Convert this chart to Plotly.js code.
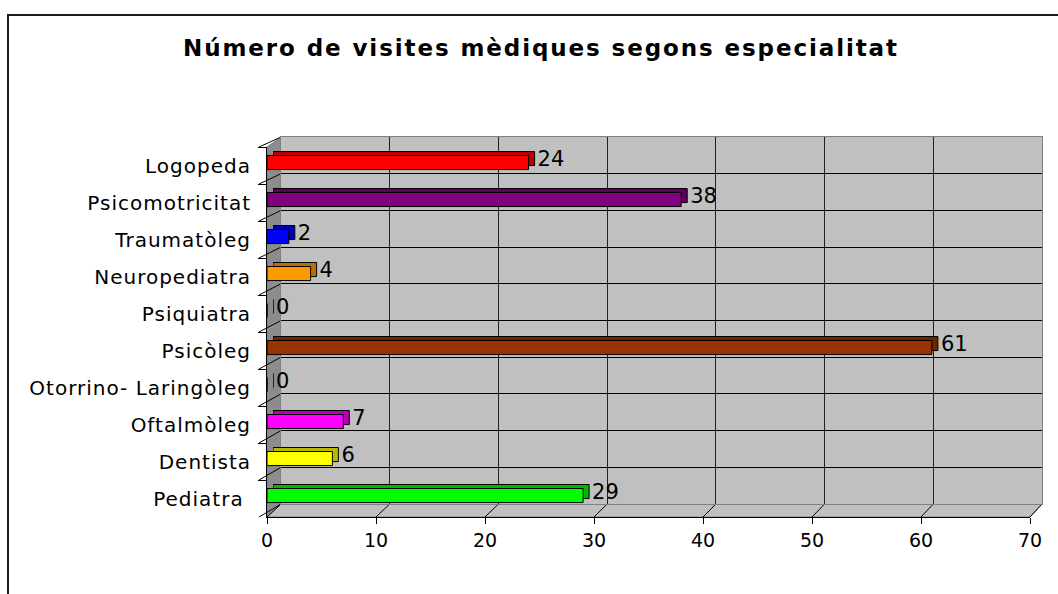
<!DOCTYPE html>
<html>
<head>
<meta charset="utf-8">
<script src="https://cdn.plot.ly/plotly-3.0.1.min.js"></script>
<style>
  html, body { margin: 0; padding: 0; background: #fff; }
  #myPlot { width: 1058px; height: 594px; }
  #myPlot .y3tick text { letter-spacing: 1px; }
  #myPlot .gtitle { letter-spacing: 1.9px; }
</style>
</head>
<body>
<div id="myPlot"></div>
<script>
const categories = [
  "Pediatra ",
  "Dentista",
  "Oftalmòleg",
  "Otorrino- Laringòleg",
  "Psicòleg",
  "Psiquiatra",
  "Neuropediatra",
  "Traumatòleg",
  "Psicomotricitat",
  "Logopeda"
];
const visits = [29, 6, 7, 0, 61, 0, 4, 2, 38, 24];
const barColors = [
  "#00FF00", "#FFFF00", "#FF00FF", "#008080", "#993300",
  "#808000", "#FF9900", "#0000FF", "#800080", "#FF0000"
];
const xTicks = [0, 10, 20, 30, 40, 50, 60, 70];
const chartTitle = "Número de visites mèdiques segons especialitat";

window.addEventListener("DOMContentLoaded", () => {
  const W = 1058, H = 594;
  const px = x => x / W;
  const py = y => 1 - y / H;

  // pixel boxes of the fake 3D frame
  const front = { x0: 267, x1: 1030, y0: 147, y1: 517 };
  const depth = { dx: 6, dy: -4 };
  const wall = { x0: 281, x1: 1042, y0: 137, y1: 504 };

  const font = "DejaVu Sans, Liberation Sans, Arial, sans-serif";
  const barWidth = 0.38;
  const barOffset = -0.11;

  function shade(hex, f) {
    const n = parseInt(hex.slice(1), 16);
    const r = Math.round(((n >> 16) & 255) * f);
    const g = Math.round(((n >> 8) & 255) * f);
    const b = Math.round((n & 255) * f);
    return `rgb(${r},${g},${b})`;
  }

  const sideBars = {
    type: "bar",
    orientation: "h",
    x: visits,
    y: categories,
    xaxis: "x2",
    yaxis: "y2",
    width: barWidth,
    offset: barOffset,
    marker: { color: barColors.map(c => shade(c, 0.72)), line: { color: "#000", width: 1 } },
    text: visits.map(String),
    textposition: "outside",
    constraintext: "none",
    textfont: { family: font, size: 21, color: "#000" },
    cliponaxis: false,
    hoverinfo: "skip"
  };

  const frontBars = {
    type: "bar",
    orientation: "h",
    x: visits,
    y: categories,
    xaxis: "x3",
    yaxis: "y3",
    width: barWidth,
    offset: barOffset,
    marker: { color: barColors, line: { color: "#000", width: 1 } },
    hovertemplate: "%{y}: %{x}<extra></extra>"
  };

  const fx = v => front.x0 + (front.x1 - front.x0) * v / 70;
  const wx = v => wall.x0 + (wall.x1 - wall.x0) * v / 70;
  const fy = k => front.y1 - (front.y1 - front.y0) * k / categories.length;
  const wy = k => wall.y1 - (wall.y1 - wall.y0) * k / categories.length;

  const shapes = [
    { type: "rect", xref: "x", yref: "y", x0: 0, x1: 70, y0: 0, y1: 10,
      fillcolor: "#c0c0c0", line: { width: 0 }, layer: "below" },
    { type: "path", xref: "paper", yref: "paper", layer: "below",
      path: `M${px(front.x0)},${py(front.y0)} L${px(wall.x0)},${py(wall.y0)} L${px(wall.x0)},${py(wall.y1)} L${px(front.x0)},${py(front.y1)} Z`,
      fillcolor: "#8c8c8c", line: { color: "#808080", width: 1 } },
    { type: "path", xref: "paper", yref: "paper", layer: "below",
      path: `M${px(front.x0)},${py(front.y1)} L${px(wall.x0)},${py(wall.y1)} L${px(wall.x1)},${py(wall.y1)} L${px(front.x1)},${py(front.y1)} Z`,
      fillcolor: "#c0c0c0", line: { color: "#808080", width: 1 } }
  ];

  xTicks.forEach(v => {
    shapes.push({ type: "line", xref: "paper", yref: "paper", layer: "below",
      x0: px(fx(v)), y0: py(front.y1), x1: px(wx(v)), y1: py(wall.y1),
      line: { color: "#000", width: 1 } });
  });
  for (let k = 0; k <= categories.length; k++) {
    shapes.push({ type: "line", xref: "paper", yref: "paper", layer: "below",
      x0: px(front.x0 - 8), y0: py(fy(k)), x1: px(wall.x0), y1: py(wy(k)),
      line: { color: "#000", width: 1 } });
  }

  // outer chart border, running off the right and bottom edges
  shapes.push({ type: "rect", xref: "paper", yref: "paper",
    x0: px(8), y0: py(15), x1: 1.02, y1: -0.02,
    line: { color: "#1a1a1a", width: 2 }, fillcolor: "rgba(0,0,0,0)" });

  const layout = {
    width: W,
    height: H,
    margin: { l: 0, r: 0, t: 0, b: 0 },
    paper_bgcolor: "#ffffff",
    plot_bgcolor: "rgba(0,0,0,0)",
    showlegend: false,
    font: { family: font, color: "#000" },
    title: {
      text: chartTitle,
      font: { family: font, size: 23, color: "#000", weight: "bold" },
      x: px(541), xanchor: "center",
      y: py(48), yanchor: "middle", yref: "container"
    },
    xaxis: {
      domain: [px(wall.x0), px(wall.x1)], anchor: "y",
      range: [0, 70], tick0: 0, dtick: 10,
      showgrid: true, gridcolor: "#202020", gridwidth: 1,
      showline: true, mirror: true, linecolor: "#808080", linewidth: 1,
      ticks: "", showticklabels: false, zeroline: false, fixedrange: true
    },
    yaxis: {
      domain: [py(wall.y1), py(wall.y0)], anchor: "x",
      range: [0, 10], tick0: 0, dtick: 1,
      showgrid: true, gridcolor: "#000000", gridwidth: 1,
      showline: true, mirror: true, linecolor: "#808080", linewidth: 1,
      ticks: "", showticklabels: false, zeroline: false, fixedrange: true
    },
    xaxis2: {
      domain: [px(front.x0 + depth.dx), px(front.x1 + depth.dx)], anchor: "y2",
      range: [0, 70], visible: false, fixedrange: true
    },
    yaxis2: {
      domain: [py(front.y1 + depth.dy), py(front.y0 + depth.dy)], anchor: "x2",
      type: "category", categoryorder: "array", categoryarray: categories,
      range: [-0.5, categories.length - 0.5], visible: false, fixedrange: true
    },
    xaxis3: {
      domain: [px(front.x0), px(front.x1)], anchor: "y3",
      range: [0, 70], tickvals: xTicks,
      ticks: "outside", ticklen: 6, tickcolor: "#000", tickwidth: 1,
      showline: true, linecolor: "#000", linewidth: 1,
      showgrid: false, zeroline: false, automargin: false,
      tickfont: { family: font, size: 19, color: "#000" }, fixedrange: true
    },
    yaxis3: {
      domain: [py(front.y1), py(front.y0)], anchor: "x3",
      type: "category", categoryorder: "array", categoryarray: categories,
      range: [-0.5, categories.length - 0.5],
      ticks: "outside", tickson: "boundaries", ticklen: 8, tickcolor: "#000",
      showline: true, linecolor: "#000", linewidth: 1,
      showgrid: false, zeroline: false, automargin: false, ticklabelstandoff: 11,
      tickfont: { family: font, size: 20, color: "#000" }, fixedrange: true
    },
    shapes: shapes
  };

  Plotly.newPlot("myPlot", [sideBars, frontBars], layout, { displayModeBar: false, staticPlot: true });
});
</script>
</body>
</html>
